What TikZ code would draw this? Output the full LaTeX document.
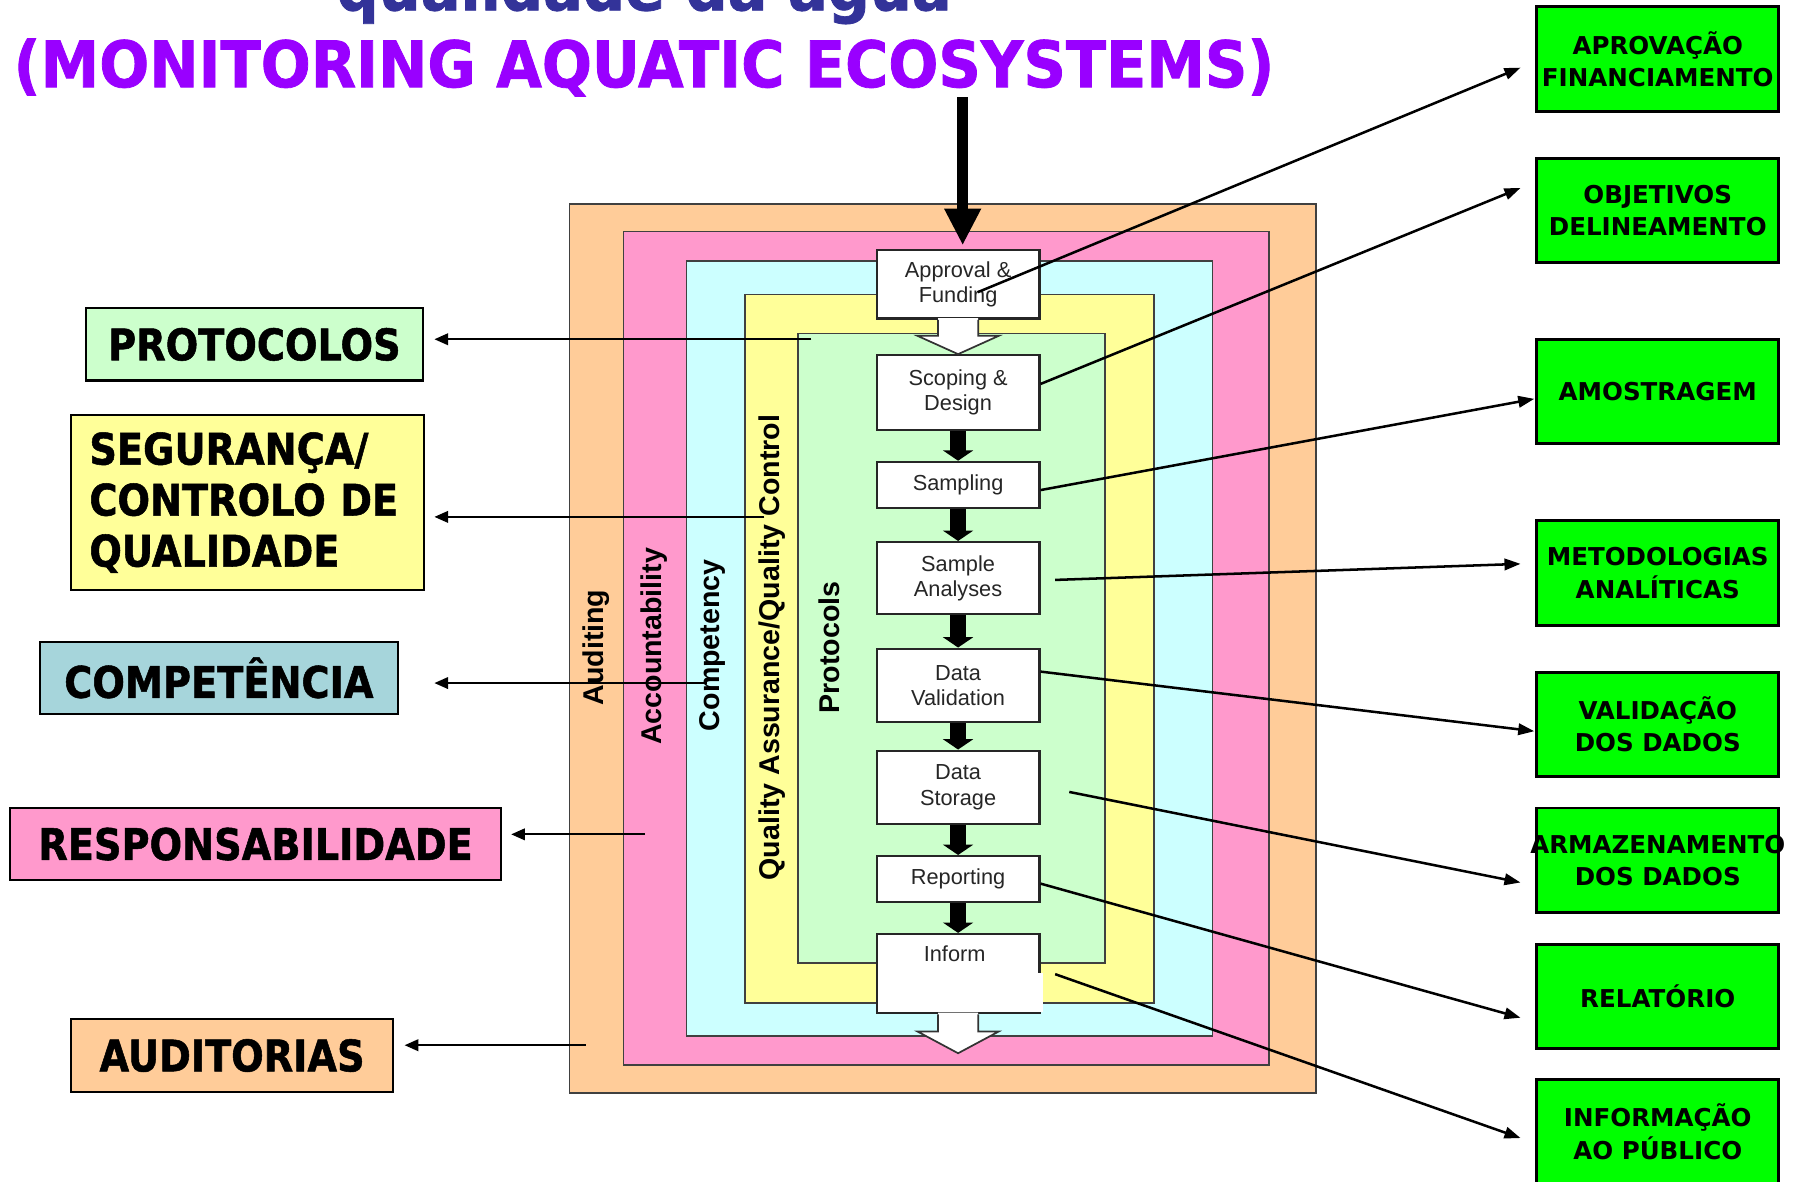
\documentclass[tikz,border=0pt]{standalone}
\usepackage{fontspec}
\usetikzlibrary{arrows.meta,calc}
\newfontfamily\titlefont[FakeStretch=0.92,BoldFeatures={FakeBold=1.2}]{DejaVu Sans}
\newfontfamily\lblfont[FakeStretch=0.88,BoldFeatures={FakeBold=1.2}]{DejaVu Sans}
\newfontfamily\grnfont{DejaVu Sans}
\newfontfamily\arialfont{Liberation Sans}
\definecolor{corange}{HTML}{FFCC99}
\definecolor{cpink}{HTML}{FF99CC}
\definecolor{ccyan}{HTML}{CCFFFF}
\definecolor{cyellow}{HTML}{FFFF99}
\definecolor{cgreen}{HTML}{CCFFCC}
\definecolor{cteal}{HTML}{A6D5DB}
\definecolor{cbright}{HTML}{00FF00}
\definecolor{tblue}{HTML}{333399}
\definecolor{tpurple}{HTML}{9900FF}
\newcommand\hollowarr[3]{%
  \fill[white] ($(#1.south)+(-17.5,-1.5)$) -- ($(#1.south)+(-17.5,#2)$) -- ($(#1.south)+(-35.5,#2)$) -- ($(#1.south)+(0,#3)$) -- ($(#1.south)+(35.5,#2)$) -- ($(#1.south)+(17.5,#2)$) -- ($(#1.south)+(17.5,-1.5)$) -- cycle;
  \draw[hollowline] ($(#1.south)+(-17.5,0)$) -- ($(#1.south)+(-17.5,#2)$) -- ($(#1.south)+(-35.5,#2)$) -- ($(#1.south)+(0,#3)$) -- ($(#1.south)+(35.5,#2)$) -- ($(#1.south)+(17.5,#2)$) -- ($(#1.south)+(17.5,0)$);}
\begin{document}
\begin{tikzpicture}[x=0.1mm,y=-0.1mm,
  frame/.style={draw=black!75,line width=0.15mm},
  rot/.style={rotate=90,inner sep=0,font=\arialfont\bfseries\fontsize{7.1}{8}\selectfont},
  fbox/.style={draw=black!85,line width=0.2mm,fill=white,minimum width=14.2mm,inner sep=0,
    align=center,text=black!85,font=\arialfont\fontsize{5.4}{6.3}\selectfont},
  blk/.style={line width=1.4mm,-{Triangle[length=0.9mm,width=2.6mm]}},
  bigarr/.style={line width=1mm,-{Triangle[length=3.2mm,width=3mm]}},
  hollowline/.style={draw=black!80,line width=0.15mm},
  lbl/.style={draw=black,line width=0.2mm,inner sep=0,font=\lblfont\bfseries\fontsize{10.8}{12.66}\selectfont},
  grn/.style={draw=black,line width=0.25mm,fill=cbright,minimum width=21.1mm,minimum height=9.1mm,
    inner sep=0,align=center,font=\grnfont\bfseries\fontsize{6.1}{7.97}\selectfont},
  larr/.style={line width=0.2mm,-{Triangle[length=1.2mm,width=1mm]}},
  rarr/.style={line width=0.22mm,-{Triangle[length=1.4mm,width=1mm]}}]
\useasboundingbox (0,0) rectangle (1568,1031);
\clip (0,0) rectangle (1568,1031);
\fill[white] (0,0) rectangle (1568,1031);

% title
\node[anchor=base,inner sep=0,text=tblue,font=\titlefont\bfseries\fontsize{15.9}{18}\selectfont] (t1) at (562,9) {qualidade da água};
\node[anchor=base,inner sep=0,text=tpurple,font=\titlefont\bfseries\fontsize{15.9}{18}\selectfont] (t2) at (562,76) {(MONITORING AQUATIC ECOSYSTEMS)};

% nested frames
\draw[frame,fill=corange] (497,178) rectangle (1148,954);
\draw[frame,fill=cpink] (544,202) rectangle (1107,929);
\draw[frame,fill=ccyan] (599,228) rectangle (1058,904);
\draw[frame,fill=cyellow] (650,257) rectangle (1007,875);
\draw[frame,fill=cgreen] (696,291) rectangle (964,840);

% rotated labels
\node[rot] (rAud) at (520,565) {Auditing};
\node[rot] (rAcc) at (571,564) {Accountability};
\node[rot] (rCom) at (622,563) {Competency};
\node[rot] (rQA) at (674,565) {Quality Assurance/Quality Control};
\node[rot] (rPro) at (724,565) {Protocols};

% left labels
\node[lbl,fill=cgreen,minimum width=29.4mm,minimum height=6.3mm] (lprot) at (222,300.5) {PROTOCOLOS};
\node[lbl,fill=cyellow,minimum width=30.8mm,minimum height=15.3mm,text width=27.6mm,align=left] (lseg) at (216,438.5) {SEGURANÇA/\\CONTROLO DE\\QUALIDADE};
\node[lbl,fill=cteal,minimum width=31.2mm,minimum height=6.3mm] (lcomp) at (191,591.5) {COMPETÊNCIA};
\node[lbl,fill=cpink,minimum width=42.8mm,minimum height=6.3mm] (lresp) at (223,736.5) {RESPONSABILIDADE};
\node[lbl,fill=corange,minimum width=28.1mm,minimum height=6.4mm] (laud) at (202.5,921) {AUDITORIAS};

% left connectors
\coordinate (sProt) at (708,296);
\coordinate (sSeg) at (667,451);
\coordinate (sComp) at (617,596);
\coordinate (sResp) at (563,728);
\coordinate (sAud) at (511,912);
\draw[larr] (sProt) -- ($(sProt -| lprot.east)+(9,0)$);
\draw[larr] (sSeg) -- ($(sSeg -| lseg.east)+(8,0)$);
\draw[larr] (sComp) -- ($(sComp -| lcomp.east)+(31,0)$);
\draw[larr] (sResp) -- ($(sResp -| lresp.east)+(8,0)$);
\draw[larr] (sAud) -- ($(sAud -| laud.east)+(9,0)$);

% flowchart
\node[fbox,minimum height=6mm] (appr) at (836,248) {Approval \&\\Funding};
\node[fbox,minimum height=6.5mm] (scope) at (836,342.5) {Scoping \&\\Design};
\node[fbox,minimum height=4mm] (samp) at (836,423) {Sampling};
\node[fbox,minimum height=6.3mm] (sa) at (836,504.5) {Sample\\Analyses};
\node[fbox,minimum height=6.4mm] (dv) at (836,598) {Data\\Validation};
\node[fbox,minimum height=6.4mm] (ds) at (836,687) {Data\\Storage};
\node[fbox,minimum height=4mm] (rep) at (836,767) {Reporting};
\node[fbox,minimum height=6.9mm] (inf) at (836,849.5) {};
\fill[white] ($(inf.south west)+(2,-2)$) rectangle ($(inf.south east)+(2,-36)$);
\node[inner sep=0,text=black!85,font=\arialfont\fontsize{5.4}{6.3}\selectfont] (inftxt) at (833,832) {Inform};

\hollowarr{appr}{14}{30}
\hollowarr{inf}{15}{34}

\draw[blk] (scope.south) -- (samp.north);
\draw[blk] (samp.south) -- (sa.north);
\draw[blk] (sa.south) -- (dv.north);
\draw[blk] (dv.south) -- (ds.north);
\draw[blk] (ds.south) -- (rep.north);
\draw[blk] (rep.south) -- (inf.north);

\coordinate (topstart) at (840,85);
\draw[bigarr] (topstart) -- ($(appr.north)+(4,-3)$);

% right green boxes
\node[grn] (gAprov) at (1446.5,51.5) {APROVAÇÃO\\FINANCIAMENTO};
\node[grn] (gObj) at (1446.5,183.5) {OBJETIVOS\\DELINEAMENTO};
\node[grn] (gAmos) at (1446.5,341.5) {AMOSTRAGEM};
\node[grn] (gMet) at (1446.5,500) {METODOLOGIAS\\ANALÍTICAS};
\node[grn] (gVal) at (1446.5,632) {VALIDAÇÃO\\DOS DADOS};
\node[grn] (gArm) at (1446.5,750.5) {\makebox[0pt][c]{ARMAZENAMENTO}\\DOS DADOS};
\node[grn] (gRel) at (1446.5,869.5) {RELATÓRIO};
\node[grn] (gInf) at (1446.5,987.5) {INFORMAÇÃO\\AO PÚBLICO};

% right connectors
\draw[rarr] ($(appr.center)+(17,7)$) -- ($(gAprov.west)+(-13,7.5)$);
\draw[rarr] ($(scope.east)+(0,-7.5)$) -- ($(gObj.west)+(-13,-19.5)$);
\draw[rarr] ($(samp.east)+(0,4.6)$) -- ($(gAmos.west)+(-1,6.5)$);
\draw[rarr] ($(sa.east)+(12.7,1.5)$) -- ($(gMet.west)+(-13,-8)$);
\draw[rarr] ($(dv.east)+(0,-12)$) -- ($(gVal.west)+(-1,6)$);
\draw[rarr] ($(ds.east)+(25,4)$) -- ($(gArm.west)+(-13,19.5)$);
\draw[rarr] ($(rep.east)+(0,4)$) -- ($(gRel.west)+(-13,18.5)$);
\draw[rarr] ($(inf.east)+(12.7,0.5)$) -- ($(gInf.west)+(-13,5.5)$);
\end{tikzpicture}
\end{document}
